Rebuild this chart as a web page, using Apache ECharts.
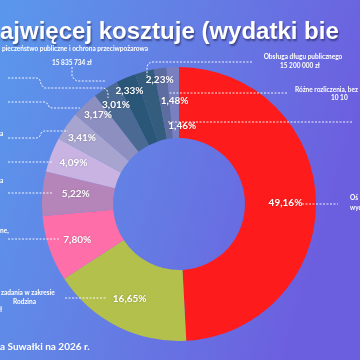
<!DOCTYPE html>
<html><head><meta charset="utf-8">
<script src="https://cdn.jsdelivr.net/npm/echarts@6/dist/echarts.min.js"></script>
<style>html,body{margin:0;padding:0;background:#6479e4}#c{width:360px;height:360px}</style>
</head><body><div id="c"></div>
<script>
// Data
const sliceLabels = ['49,16%', '16,65%', '7,80%', '5,22%', '4,09%', '3,41%', '3,17%', '3,01%', '2,33%', '2,23%', '1,48%', '1,46%'];
const shares = [49.16, 16.65, 7.80, 5.22, 4.09, 3.41, 3.17, 3.01, 2.33, 2.23, 1.48, 1.46];
const titleText = 'ajwięcej kosztuje (wydatki bie';
const footerText = 'a Suwałki na 2026 r.';

// Styles
const colors = ['#fe1b1b', '#b4c04c', '#fe6ea9', '#b585b9', '#c8b3e3', '#a7a5cf', '#8d8fc0', '#4a6a94', '#2a5677', '#345d7d', '#5d6d9f', '#7a80bf'];
const labelOffsets = [[2,2],[-2,2],[-3,2],[1,-2],[-8,-4],[-11,-7],[-9,-13],[-7,-11],[-9,-17],[7,-23],[10,0],[8,26]];

const FONT = 'Lato, "Open Sans", "Liberation Sans", sans-serif';
const small = (text, x, y, align) => ({
  type: 'text', z: 10, x: x, y: y,
  style: { text: text, fill: '#ffffff', font: 'bold 6.5px ' + FONT, align: align || 'left', verticalAlign: 'middle' }
});
const dash = (pts) => ({
  type: 'polyline', z: 5, shape: { points: pts },
  style: { stroke: 'rgba(255,255,255,0.9)', lineWidth: 1, lineDash: [2, 1.5], fill: null }
});

const chart = echarts.init(document.getElementById('c'), null, { renderer: 'canvas' });
chart.setOption({
  animation: false,
  graphic: [
    { type: 'rect', z: -10, shape: { x: 0, y: 0, width: 360, height: 360 },
      style: { fill: new echarts.graphic.LinearGradient(0, 0, 1, 0.3, [
        { offset: 0, color: '#5a98ec' }, { offset: 0.5, color: '#647ee4' }, { offset: 1, color: '#6c5fdf' }]) } },
    { type: 'text', z: 10, x: 0, y: 32,
      style: { text: titleText, fill: '#ffffff', font: 'bold 24px "Liberation Sans", Arial, sans-serif', verticalAlign: 'middle',
        textShadowColor: 'rgba(20,20,60,0.55)', textShadowOffsetX: 1, textShadowOffsetY: 2, textShadowBlur: 2 } },
    { type: 'text', z: 10, x: 0, y: 347,
      style: { text: footerText, fill: '#ffffff', font: 'bold 10px ' + FONT, verticalAlign: 'middle' } },
    small('pieczeństwo publiczne i ochrona przeciwpożarowa', 2, 49),
    small('15 835 734 zł', 72, 63, 'center'),
    small('Obsługa długu publicznego', 303, 57, 'center'),
    small('15 200 000 zł', 300, 66, 'center'),
    small('Różne rozliczenia, bez', 295, 90),
    small('10 10', 331, 98),
    small('Oś', 350, 198),
    small('wyd', 350, 208),
    small('a', 0, 134),
    small('a', 0, 181),
    small('ne,', 0, 231),
    small('zadania w zakresie', 1, 293),
    small('Rodzina', 13, 302),
    small('ł', 0, 310),
    dash([[8,78],[37,78],[40,80],[41,84],[44,88],[104,88],[107,90],[108,94],[108,98]]),
    dash([[72,67],[72,76],[74,79],[77,81],[105,81]]),
    dash([[8,102],[45,102],[48,104],[49,107],[52,108],[80,108]]),
    dash([[8,138],[37,138],[40,136],[41,133],[44,131],[68,131]]),
    dash([[252,62],[151,62],[148,64],[147,67],[147,76]]),
    dash([[287,93],[168,93]]),
    dash([[352,122],[167,122]]),
    dash([[8,162],[53,162]]),
    dash([[8,193],[53,193]]),
    dash([[8,239],[60,239]]),
    dash([[65,298],[107,298]]),
    dash([[302,204],[338,204]])
  ],
  series: [{
    type: 'pie',
    center: [179, 204],
    radius: [66, 137],
    startAngle: 90,
    clockwise: true,
    avoidLabelOverlap: false,
    labelLayout: { hideOverlap: false },
    labelLine: { show: false },
    label: {
      show: true, position: 'inside', color: '#ffffff',
      fontFamily: FONT, fontWeight: 'bold', fontSize: 10,
      textShadowColor: 'rgba(0,0,0,0.25)', textShadowBlur: 2,
      formatter: (p) => sliceLabels[p.dataIndex]
    },
    itemStyle: { borderWidth: 0 },
    data: shares.map((v, i) => ({
      value: v,
      name: sliceLabels[i],
      itemStyle: { color: colors[i] },
      label: { offset: labelOffsets[i] }
    }))
  }]
});
</script>
</body></html>
